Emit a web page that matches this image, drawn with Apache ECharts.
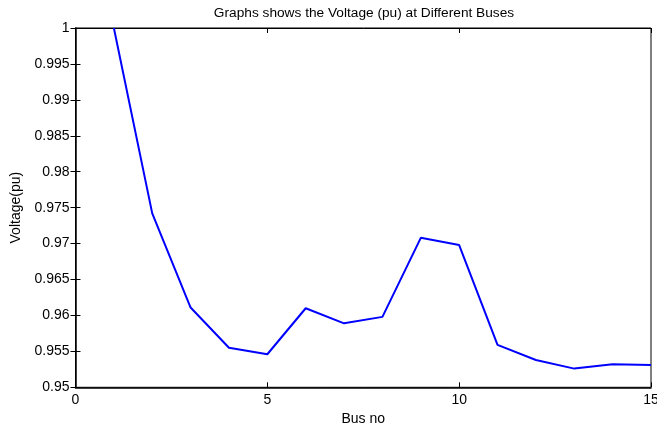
<!DOCTYPE html>
<html><head><meta charset="utf-8">
<script src="https://cdn.jsdelivr.net/npm/echarts@6/dist/echarts.min.js"></script>
<style>html,body{margin:0;padding:0;background:#fff}#c{width:657px;height:427px}</style>
</head><body><div id="c"></div>
<script>
const busNo = [1,2,3,4,5,6,7,8,9,10,11,12,13,14,15];
const voltage = [1.0,0.9742,0.9611,0.9555,0.9546,0.9610,0.9589,0.9598,0.9708,0.9698,0.9559,0.9538,0.9526,0.9532,0.9531];
const titleText = 'Graphs shows the Voltage (pu) at Different Buses';
const xName = 'Bus no';
const yName = 'Voltage(pu)';

const font = 'Arial, "Liberation Sans", sans-serif';
const chart = echarts.init(document.getElementById('c'), null, {renderer:'canvas'});
const tickStyle = {show:true, inside:true, length:5, lineStyle:{color:'#000', width:1}};
chart.setOption({
  animation:false,
  backgroundColor:'#fff',
  title:{text:titleText, left:359, top:1, textAlign:'center',
    textStyle:{fontFamily:font, fontSize:13.7, fontWeight:'normal', color:'#000'}},
  grid:{left:75.5, right:6, top:28, bottom:39.7, show:true, borderColor:'#000', borderWidth:1,
    containLabel:false, outerBoundsMode:'none'},
  xAxis:[{
    type:'value', min:0, max:15, interval:5,
    name:xName, nameLocation:'middle', nameGap:25,
    nameTextStyle:{fontFamily:font, fontSize:14, color:'#000'},
    axisLine:{show:true, onZero:false, lineStyle:{color:'#000', width:1.5}},
    axisTick:tickStyle,
    axisLabel:{fontFamily:font, fontSize:14, color:'#000', margin:6},
    splitLine:{show:false}
  },{
    type:'value', position:'top', min:0, max:15, interval:5,
    axisLine:{show:true, lineStyle:{color:'#000', width:1}},
    axisTick:tickStyle, axisLabel:{show:false}, splitLine:{show:false}
  }],
  yAxis:[{
    type:'value', min:0.95, max:1, interval:0.005,
    name:yName, nameLocation:'middle', nameGap:47.5,
    nameTextStyle:{fontFamily:font, fontSize:14, color:'#000'},
    axisLine:{show:true, onZero:false, lineStyle:{color:'#000', width:1.5}},
    axisTick:tickStyle,
    axisLabel:{fontFamily:font, fontSize:14, color:'#000', margin:6,
      formatter:v=>String(parseFloat(v.toFixed(3)))},
    splitLine:{show:false}
  },{
    type:'value', position:'right', min:0.95, max:1, interval:0.005,
    axisLine:{show:true, lineStyle:{color:'#000', width:1}},
    axisTick:tickStyle, axisLabel:{show:false}, splitLine:{show:false}
  }],
  series:[{
    type:'line', xAxisIndex:0, yAxisIndex:0,
    data: busNo.map((b,i)=>[b, voltage[i]]),
    showSymbol:false, symbol:'none',
    lineStyle:{color:'#0000ff', width:2},
    itemStyle:{color:'#0000ff'}
  }]
});
</script></body></html>
